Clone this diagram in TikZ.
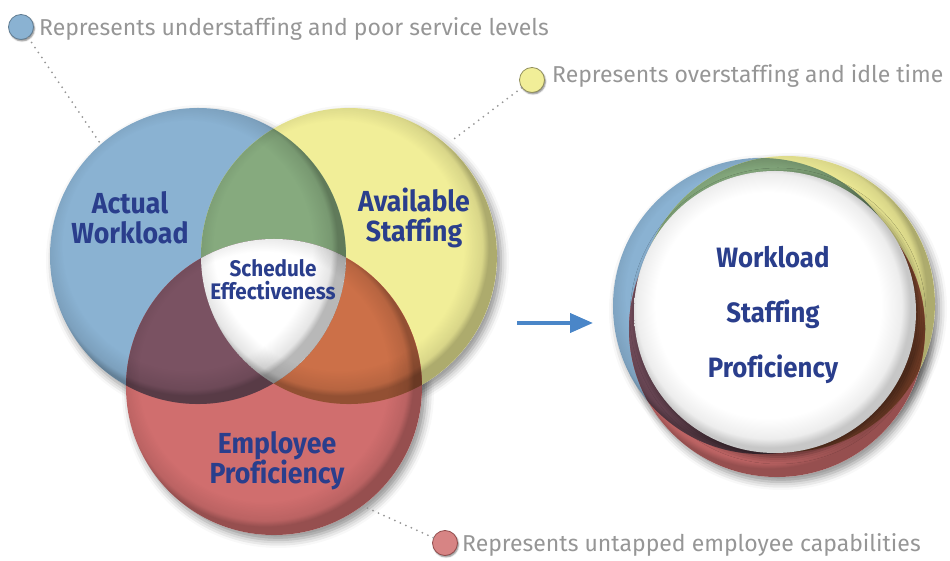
\documentclass[tikz,border=0pt]{standalone}
\usepackage{fontspec}
\setmainfont{Fira Sans}
\newfontfamily\labelfont[FakeStretch=0.92, Ligatures=NoCommon]{Fira Sans}
\newfontfamily\notefont[Ligatures=NoCommon]{Fira Sans}
\usetikzlibrary{arrows.meta}
\usetikzlibrary{shadows.blur}
\usetikzlibrary{fadings}

\definecolor{workblue}{RGB}{138,178,210}
\definecolor{staffyellow}{RGB}{241,238,152}
\definecolor{profred}{RGB}{208,110,110}
\definecolor{mixgreen}{RGB}{134,170,126}
\definecolor{mixpurple}{RGB}{122,82,98}
\definecolor{mixorange}{RGB}{204,112,72}
\definecolor{labelblue}{RGB}{42,62,140}
\definecolor{notegray}{RGB}{150,150,150}
\definecolor{arrowblue}{RGB}{74,134,200}

% darker rim, light coming from the top left (path edge sits at 25bp)
\pgfdeclareradialshading{rimshade}{\pgfpoint{-3bp}{3bp}}{color(0bp)=(black); color(21bp)=(black); color(24bp)=(black!90); color(25bp)=(black!72); color(50bp)=(black!72)}
\pgfdeclarefading{rimfade}{\pgfuseshading{rimshade}}
\pgfdeclareradialshading{lensshade}{\pgfpoint{-2bp}{2bp}}{color(0bp)=(white); color(20bp)=(white); color(23.5bp)=(black!7); color(25bp)=(black!22); color(50bp)=(black!22)}

\tikzstyle{big label}=[inner sep=0pt, align=center, text=labelblue, font=\labelfont\bfseries\fontsize{29}{30}\selectfont]
\tikzstyle{note}=[inner sep=0pt, anchor=base west, text=notegray, font=\notefont\fontsize{23}{26}\selectfont]
\tikzstyle{note dot}=[circle, inner sep=0pt, minimum size=25pt, line width=0.8pt, blur shadow={shadow xshift=1pt, shadow yshift=-1.5pt, shadow blur radius=1.5pt, shadow opacity=50}]
\tikzstyle{leader}=[notegray, line width=2pt, line cap=round, dash pattern=on 0pt off 6pt]
\tikzstyle{rim}=[black, path fading=rimfade]
\tikzstyle{drop}=[blur shadow={shadow xshift=4pt, shadow yshift=-5pt, shadow blur radius=8pt, shadow opacity=45}]

% three overlapping discs: #1 blue, #2 yellow, #3 red, radius #4
\newcommand\threecircles[4]{
	\foreach \c in {#1,#2,#3}
		\fill[white, drop] (\c) circle (#4);
	\fill[workblue] (#1) circle (#4);
	\fill[staffyellow] (#2) circle (#4);
	\fill[profred] (#3) circle (#4);
	\begin{scope}
		\clip (#2) circle (#4);
		\fill[mixorange] (#3) circle (#4);
	\end{scope}
	\begin{scope}
		\clip (#1) circle (#4);
		\fill[mixgreen] (#2) circle (#4);
		\fill[mixpurple] (#3) circle (#4);
		\clip (#2) circle (#4);
		\fill[white] (#3) circle (#4);
	\end{scope}
	\foreach \c in {#1,#2,#3}
		\fill[rim] (\c) circle (#4);
}

\begin{document}
\begin{tikzpicture}[x=1pt, y=1pt]
	\useasboundingbox (0,0) rectangle (950,561);

	% venn part
	\coordinate (workload) at (198,305);
	\coordinate (staffing) at (349,305);
	\coordinate (proficiency) at (274,174);
	\threecircles{workload}{staffing}{proficiency}{148}

	\node[big label] (actual) at (130,343) {Actual\\Workload};
	\node[big label] (available) at (414,343) {Available\\Staffing};
	\node[big label] (employee) at (277,100) {Employee\\Proficiency};
	\node[big label, font=\labelfont\bfseries\fontsize{22.5}{23}\selectfont] (schedule) at (273,281) {Schedule\\Effectiveness};

	% merged disc on the right
	\coordinate (lensblue) at (761,255);
	\coordinate (lensyellow) at (787,257);
	\coordinate (lensred) at (777,232);
	\coordinate (lens) at (775,249);
	\threecircles{lensblue}{lensyellow}{lensred}{148}
	\shade[shading=lensshade, blur shadow={shadow xshift=3pt, shadow yshift=-4pt, shadow blur radius=7pt, shadow opacity=55}] (lens) circle (141);
	\node[big label, font=\labelfont\bfseries\fontsize{28}{55}\selectfont] (lenstext) at (773,246) {Workload\\Staffing\\Proficiency};

	% arrow between the two
	\coordinate (arrowtail) at (517,238);
	\coordinate (arrowtip) at (593,238);
	\draw[arrowblue, line width=4pt, -{Triangle[length=23pt, width=19pt]}] (arrowtail) -- (arrowtip);

	% callouts
	\node[note dot, fill=workblue, draw=workblue!70!black] (bluedot) at (21,534) {};
	\node[note] (bluenote) at (39,525) {Represents understaffing and poor service levels};
	\coordinate (bluetip) at (100,418);
	\draw[leader] (bluedot) -- (bluetip);

	\node[note dot, fill=staffyellow, draw=staffyellow!60!black] (yellowdot) at (532,481) {};
	\node[note] (yellownote) at (552,478) {Represents overstaffing and idle time};
	\coordinate (yellowtip) at (450,419);
	\draw[leader] (yellowdot) -- (yellowtip);

	\node[note dot, fill=profred!85!white, draw=profred!70!black] (reddot) at (445,18) {};
	\node[note] (rednote) at (462,9) {Represents untapped employee capabilities};
	\coordinate (redtip) at (365,54);
	\draw[leader] (reddot) -- (redtip);
\end{tikzpicture}
\end{document}
